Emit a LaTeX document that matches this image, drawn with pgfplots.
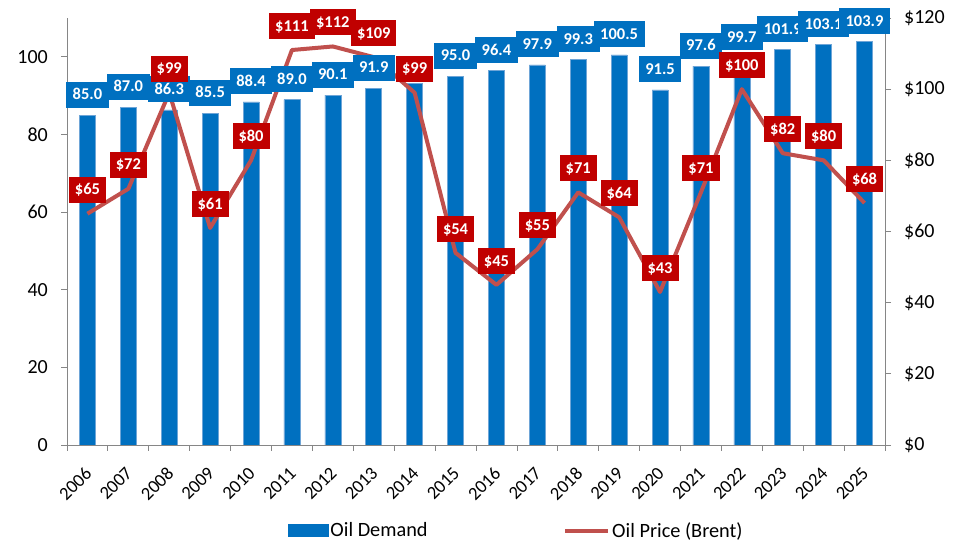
\documentclass[border=0pt]{standalone}
\usepackage{fontspec}
\setmainfont{Carlito}
\usepackage{pgfplots}
\pgfplotsset{compat=1.18}
\usepackage{pgfplotstable}
\definecolor{barblue}{RGB}{0,112,192}
\definecolor{baredge}{RGB}{110,165,215}
\definecolor{linered}{RGB}{192,80,77}
\definecolor{labred}{RGB}{192,0,0}
\definecolor{axgray}{RGB}{134,134,134}
\pgfplotsset{/pgf/number format/assume math mode=true}

\pgfplotstableread{
x year d p
0 2006 85.0 65
1 2007 87.0 72
2 2008 86.3 99
3 2009 85.5 61
4 2010 88.4 80
5 2011 89.0 111
6 2012 90.1 112
7 2013 91.9 109
8 2014 93.2 99
9 2015 95.0 54
10 2016 96.4 45
11 2017 97.9 55
12 2018 99.3 71
13 2019 100.5 64
14 2020 91.5 43
15 2021 97.6 71
16 2022 99.7 100
17 2023 101.9 82
18 2024 103.1 80
19 2025 103.9 68
}\data

\pgfplotstableread{
x d lab
0 85.0 85.0
1 87.0 87.0
2 86.3 86.3
3 85.5 85.5
4 88.4 88.4
5 89.0 89.0
6 90.1 90.1
7 91.9 91.9
9 95.0 95.0
10 96.4 96.4
11 97.9 97.9
12 99.3 99.3
13 100.5 100.5
14 91.5 91.5
15 97.6 97.6
16 99.7 99.7
17 101.9 101.9
18 103.1 103.1
19 103.9 103.9
}\dlab

\begin{document}
\begin{tikzpicture}
\useasboundingbox (-67pt,-95pt) rectangle (894pt,445pt);
\begin{axis}[
  at={(0,0)}, anchor=south west,
  scale only axis, width=818pt, height=427pt,
  xmin=-0.5, xmax=19.5, ymin=0, ymax=110,
  axis x line*=bottom, axis y line*=left,
  axis line style={axgray, line width=0.8pt, -},
  xtick={0,...,19},
  xticklabels={2006,2007,2008,2009,2010,2011,2012,2013,2014,2015,2016,2017,2018,2019,2020,2021,2022,2023,2024,2025},
  ytick={0,20,...,100},
  yticklabel={\pgfmathprintnumber{\tick}},
  minor xtick={-0.5,0.5,...,19.5},
  minor ytick={0,20,...,100},
  major tick length=0pt, minor tick length=6pt,
  tick align=outside,
  tick style={axgray, line width=0.8pt},
  yticklabel style={font=\fontsize{20}{24}\selectfont, inner sep=0pt, xshift=-19pt},
  xticklabel style={font=\fontsize{18.5}{22}\selectfont, xshift=-3.5pt, yshift=-20.7pt, rotate=45, anchor=north east, inner sep=0pt},
]
\addplot[ybar, bar width=16pt, fill=barblue, draw=baredge, line width=0.6pt] table[x=x,y=d]{\data};
\end{axis}
\begin{axis}[
  at={(0,0)}, anchor=south west,
  scale only axis, width=818pt, height=427pt,
  xmin=-0.5, xmax=19.5, ymin=0, ymax=120,
  axis x line=none, axis y line*=right,
  axis line style={axgray, line width=0.8pt, -},
  ytick={0,20,...,120},
  yticklabel={\$\pgfmathprintnumber{\tick}},
  tick align=outside, major tick length=6pt,
  tick style={axgray, line width=0.8pt},
  yticklabel style={font=\fontsize{20}{24}\selectfont, inner sep=0pt, xshift=13pt, anchor=west},
  clip=false,
  legend style={draw=none, fill=none, inner sep=0pt, at={(0.2702,-0.2006)}, anchor=west,
    font=\fontsize{20.3}{24}\selectfont, nodes={inner sep=1.8pt},
    /tikz/every even column/.append style={column sep=134pt}},
  legend columns=2,
]
\addplot[forget plot, linered, line width=4pt, line join=round, mark=none] table[x=x,y=p]{\data};
\addplot[forget plot, draw=none, mark=none, point meta=explicit symbolic, nodes near coords,
  every node near coord/.append style={fill=barblue, text=white, font=\bfseries\fontsize{16.5}{18}\selectfont,
    inner xsep=6.5pt, inner ysep=7.8pt, text height=10.4pt, text depth=0pt, anchor=center, yshift=20.5pt}]
  table[x=x, y expr=\thisrow{d}*120/110, meta=lab]{\dlab};
\addplot[forget plot, draw=none, mark=none, point meta=explicit symbolic, nodes near coords={\$\pgfplotspointmeta},
  every node near coord/.append style={fill=labred, text=white, font=\bfseries\fontsize{16.5}{18}\selectfont,
    inner xsep=6pt, inner ysep=7.8pt, text height=10.4pt, text depth=0pt, anchor=center, yshift=24pt}]
  table[x=x, y=p, meta=p]{\data};
\addlegendimage{legend image code/.code={\fill[barblue] (0pt,-6pt) rectangle (40pt,6pt);}}
\addlegendentry{Oil Demand}
\addlegendimage{legend image code/.code={\draw[linered, line width=4pt] (0pt,0pt) -- (43pt,0pt);}}
\addlegendentry{Oil Price (Brent)}
\end{axis}
\end{tikzpicture}
\end{document}
